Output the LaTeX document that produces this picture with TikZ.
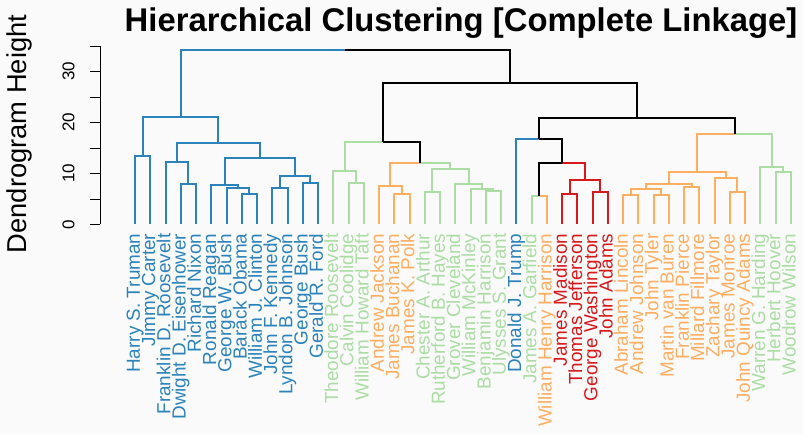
\documentclass[tikz,border=0pt]{standalone}
\usepackage{fontspec}
\setmainfont{Liberation Sans}
\usepackage{tikz}

\definecolor{cblue}{HTML}{2B83BA}
\definecolor{cgreen}{HTML}{ABDDA4}
\definecolor{corange}{HTML}{FDAE61}
\definecolor{cred}{HTML}{D7191C}
\definecolor{bgpaper}{HTML}{FAFAFA}

\begin{document}
\begin{tikzpicture}[
	leaf/.style={rotate=90, anchor=east, inner sep=0pt, text height=13.6pt, text depth=4pt,
		font=\fontsize{18.9}{18.9}\selectfont},
	ticklabel/.style={rotate=90, inner sep=0pt, font=\fontsize{17}{17}\selectfont},
	branch/.style={line width=2pt},
	bluebr/.style={branch, draw=cblue},
	greenbr/.style={branch, draw=cgreen},
	orangebr/.style={branch, draw=corange},
	redbr/.style={branch, draw=cred},
	blackbr/.style={branch, draw=black},
	axisline/.style={line width=0.9pt}
	]
	
	\useasboundingbox (0,0) rectangle (803pt,434pt);
	\fill[bgpaper] (0,0) rectangle (803pt,434pt);
	
	%-----------------------
	% Title and axis label
	%-----------------------
	\node[anchor=base, inner sep=0pt, font=\bfseries\fontsize{32.8}{32.8}\selectfont] (title) at (461pt,402.5pt)
		{Hierarchical Clustering [Complete Linkage]};
	\node[rotate=90, inner sep=0pt, font=\fontsize{27.3}{27.3}\selectfont] (ylabel) at (19.5pt,300pt)
		{Dendrogram Height};
	
	% leaf index on x, height on y
	\begin{scope}[shift={(119.75pt,209.5pt)}, x=15.25pt, y=5.1pt]
	
	%-----------------------
	% Axis
	%-----------------------
	\coordinate (A0) at (-1.295,0);
	\coordinate (A35) at (-1.295,35);
	\draw[axisline] (A0) -- (A35);
	\draw[axisline] (-1.295,0) -- ++(-10pt,0);
	\draw[axisline] (-1.295,5) -- ++(-10pt,0);
	\draw[axisline] (-1.295,10) -- ++(-10pt,0);
	\draw[axisline] (-1.295,15) -- ++(-10pt,0);
	\draw[axisline] (-1.295,20) -- ++(-10pt,0);
	\draw[axisline] (-1.295,25) -- ++(-10pt,0);
	\draw[axisline] (-1.295,30) -- ++(-10pt,0);
	\draw[axisline] (-1.295,35) -- ++(-10pt,0);
	
	\node[ticklabel] (T0)  at (-3.36,0)  {0};
	\node[ticklabel] (T10) at (-3.36,10) {10};
	\node[ticklabel] (T20) at (-3.36,20) {20};
	\node[ticklabel] (T30) at (-3.36,30) {30};
	
	%-----------------------
	% Leaves
	%-----------------------
	\coordinate (L1) at (1,0);   \coordinate (L2) at (2,0);   \coordinate (L3) at (3,0);
	\coordinate (L4) at (4,0);   \coordinate (L5) at (5,0);   \coordinate (L6) at (6,0);
	\coordinate (L7) at (7,0);   \coordinate (L8) at (8,0);   \coordinate (L9) at (9,0);
	\coordinate (L10) at (10,0); \coordinate (L11) at (11,0); \coordinate (L12) at (12,0);
	\coordinate (L13) at (13,0); \coordinate (L14) at (14,0); \coordinate (L15) at (15,0);
	\coordinate (L16) at (16,0); \coordinate (L17) at (17,0); \coordinate (L18) at (18,0);
	\coordinate (L19) at (19,0); \coordinate (L20) at (20,0); \coordinate (L21) at (21,0);
	\coordinate (L22) at (22,0); \coordinate (L23) at (23,0); \coordinate (L24) at (24,0);
	\coordinate (L25) at (25,0); \coordinate (L26) at (26,0); \coordinate (L27) at (27,0);
	\coordinate (L28) at (28,0); \coordinate (L29) at (29,0); \coordinate (L30) at (30,0);
	\coordinate (L31) at (31,0); \coordinate (L32) at (32,0); \coordinate (L33) at (33,0);
	\coordinate (L34) at (34,0); \coordinate (L35) at (35,0); \coordinate (L36) at (36,0);
	\coordinate (L37) at (37,0); \coordinate (L38) at (38,0); \coordinate (L39) at (39,0);
	\coordinate (L40) at (40,0); \coordinate (L41) at (41,0); \coordinate (L42) at (42,0);
	\coordinate (L43) at (43,0); \coordinate (L44) at (44,0);
	
	%-----------------------
	% Leaf labels
	%-----------------------
	\node[leaf, text=cblue] (N1)  at ([yshift=-9pt]L1)  {Harry S. Truman};
	\node[leaf, text=cblue] (N2)  at ([yshift=-9pt]L2)  {Jimmy Carter};
	\node[leaf, text=cblue] (N3)  at ([yshift=-9pt]L3)  {Franklin D. Roosevelt};
	\node[leaf, text=cblue] (N4)  at ([yshift=-9pt]L4)  {Dwight D. Eisenhower};
	\node[leaf, text=cblue] (N5)  at ([yshift=-9pt]L5)  {Richard Nixon};
	\node[leaf, text=cblue] (N6)  at ([yshift=-9pt]L6)  {Ronald Reagan};
	\node[leaf, text=cblue] (N7)  at ([yshift=-9pt]L7)  {George W. Bush};
	\node[leaf, text=cblue] (N8)  at ([yshift=-9pt]L8)  {Barack Obama};
	\node[leaf, text=cblue] (N9)  at ([yshift=-9pt]L9)  {William J. Clinton};
	\node[leaf, text=cblue] (N10) at ([yshift=-9pt]L10) {John F. Kennedy};
	\node[leaf, text=cblue] (N11) at ([yshift=-9pt]L11) {Lyndon B. Johnson};
	\node[leaf, text=cblue] (N12) at ([yshift=-9pt]L12) {George Bush};
	\node[leaf, text=cblue] (N13) at ([yshift=-9pt]L13) {Gerald R. Ford};
	\node[leaf, text=cgreen] (N14) at ([yshift=-9pt]L14) {Theodore Roosevelt};
	\node[leaf, text=cgreen] (N15) at ([yshift=-9pt]L15) {Calvin Coolidge};
	\node[leaf, text=cgreen] (N16) at ([yshift=-9pt]L16) {William Howard Taft};
	\node[leaf, text=corange] (N17) at ([yshift=-9pt]L17) {Andrew Jackson};
	\node[leaf, text=corange] (N18) at ([yshift=-9pt]L18) {James Buchanan};
	\node[leaf, text=corange] (N19) at ([yshift=-9pt]L19) {James K. Polk};
	\node[leaf, text=cgreen] (N20) at ([yshift=-9pt]L20) {Chester A. Arthur};
	\node[leaf, text=cgreen] (N21) at ([yshift=-9pt]L21) {Rutherford B. Hayes};
	\node[leaf, text=cgreen] (N22) at ([yshift=-9pt]L22) {Grover Cleveland};
	\node[leaf, text=cgreen] (N23) at ([yshift=-9pt]L23) {William McKinley};
	\node[leaf, text=cgreen] (N24) at ([yshift=-9pt]L24) {Benjamin Harrison};
	\node[leaf, text=cgreen] (N25) at ([yshift=-9pt]L25) {Ulysses S. Grant};
	\node[leaf, text=cblue] (N26) at ([yshift=-9pt]L26) {Donald J. Trump};
	\node[leaf, text=cgreen] (N27) at ([yshift=-9pt]L27) {James A. Garfield};
	\node[leaf, text=corange] (N28) at ([yshift=-9pt]L28) {William Henry Harrison};
	\node[leaf, text=cred] (N29) at ([yshift=-9pt]L29) {James Madison};
	\node[leaf, text=cred] (N30) at ([yshift=-9pt]L30) {Thomas Jefferson};
	\node[leaf, text=cred] (N31) at ([yshift=-9pt]L31) {George Washington};
	\node[leaf, text=cred] (N32) at ([yshift=-9pt]L32) {John Adams};
	\node[leaf, text=corange] (N33) at ([yshift=-9pt]L33) {Abraham Lincoln};
	\node[leaf, text=corange] (N34) at ([yshift=-9pt]L34) {Andrew Johnson};
	\node[leaf, text=corange] (N35) at ([yshift=-9pt]L35) {John Tyler};
	\node[leaf, text=corange] (N36) at ([yshift=-9pt]L36) {Martin van Buren};
	\node[leaf, text=corange] (N37) at ([yshift=-9pt]L37) {Franklin Pierce};
	\node[leaf, text=corange] (N38) at ([yshift=-9pt]L38) {Millard Fillmore};
	\node[leaf, text=corange] (N39) at ([yshift=-9pt]L39) {Zachary Taylor};
	\node[leaf, text=corange] (N40) at ([yshift=-9pt]L40) {James Monroe};
	\node[leaf, text=corange] (N41) at ([yshift=-9pt]L41) {John Quincy Adams};
	\node[leaf, text=cgreen] (N42) at ([yshift=-9pt]L42) {Warren G. Harding};
	\node[leaf, text=cgreen] (N43) at ([yshift=-9pt]L43) {Herbert Hoover};
	\node[leaf, text=cgreen] (N44) at ([yshift=-9pt]L44) {Woodrow Wilson};
	
	%-----------------------
	% Merge points (x = mean of children, y = height)
	%-----------------------
	% blue cluster
	\coordinate (a1)  at (1.5,13.4);
	\coordinate (a2)  at (4.5,7.9);
	\coordinate (a3)  at (3.75,12.2);
	\coordinate (a4)  at (8.5,6.0);
	\coordinate (a5)  at (7.75,7.2);
	\coordinate (a6)  at (6.875,7.7);
	\coordinate (a7)  at (10.5,7.1);
	\coordinate (a8)  at (12.5,8.1);
	\coordinate (a9)  at (11.5,9.5);
	\coordinate (a10) at (9.1875,13.1);
	\coordinate (a11) at (6.46875,15.9);
	\coordinate (a12) at (3.984,21.0);
	% middle green / orange
	\coordinate (b1)  at (15.5,8.2);
	\coordinate (b2)  at (14.75,10.4);
	\coordinate (b3)  at (18.5,6.0);
	\coordinate (b4)  at (17.75,7.5);
	\coordinate (b5)  at (20.5,6.4);
	\coordinate (b6)  at (24.5,6.6);
	\coordinate (b7)  at (23.75,7.0);
	\coordinate (b8)  at (22.875,7.9);
	\coordinate (b9)  at (21.6875,10.8);
	\coordinate (b10) at (19.71875,12.1);
	\coordinate (b11) at (17.234,16.2);
	% right part
	\coordinate (c1)  at (27.5,5.6);
	\coordinate (c2)  at (29.5,6.0);
	\coordinate (c3)  at (31.5,6.4);
	\coordinate (c4)  at (30.5,8.7);
	\coordinate (c5)  at (29.0,12.0);
	\coordinate (c6)  at (27.5,16.8);
	\coordinate (d1)  at (33.5,5.8);
	\coordinate (d2)  at (35.5,5.8);
	\coordinate (d3)  at (34.5,7.0);
	\coordinate (d4)  at (37.5,7.4);
	\coordinate (d5)  at (36.0,7.9);
	\coordinate (d6)  at (40.5,6.4);
	\coordinate (d7)  at (39.75,9.1);
	\coordinate (d8)  at (37.875,10.2);
	\coordinate (e1)  at (43.5,10.3);
	\coordinate (e2)  at (42.75,11.3);
	\coordinate (d9)  at (40.3125,17.7);
	\coordinate (c7)  at (33.906,20.8);
	% top
	\coordinate (r1)   at (25.57,27.8);
	\coordinate (root) at (14.777,34.2);
	
	%-----------------------
	% Branches (parent -| child)
	%-----------------------
	% blue
	\draw[bluebr] (root) -| (a12);
	\draw[bluebr] (a12) -| (a1)  (a12) -| (a11);
	\draw[bluebr] (a1)  -| (L1)  (a1)  -| (L2);
	\draw[bluebr] (a11) -| (a3)  (a11) -| (a10);
	\draw[bluebr] (a3)  -| (L3)  (a3)  -| (a2);
	\draw[bluebr] (a2)  -| (L4)  (a2)  -| (L5);
	\draw[bluebr] (a10) -| (a6)  (a10) -| (a9);
	\draw[bluebr] (a6)  -| (L6)  (a6)  -| (a5);
	\draw[bluebr] (a5)  -| (L7)  (a5)  -| (a4);
	\draw[bluebr] (a4)  -| (L8)  (a4)  -| (L9);
	\draw[bluebr] (a9)  -| (a7)  (a9)  -| (a8);
	\draw[bluebr] (a7)  -| (L10) (a7)  -| (L11);
	\draw[bluebr] (a8)  -| (L12) (a8)  -| (L13);
	\draw[bluebr] (c6)  -| (L26);
	
	% green
	\draw[greenbr] (b11) -| (b2);
	\draw[greenbr] (b2)  -| (L14) (b2) -| (b1);
	\draw[greenbr] (b1)  -| (L15) (b1) -| (L16);
	\draw[greenbr] (b10) -| (b9);
	\draw[greenbr] (b9)  -| (b5)  (b9) -| (b8);
	\draw[greenbr] (b5)  -| (L20) (b5) -| (L21);
	\draw[greenbr] (b8)  -| (L22) (b8) -| (b7);
	\draw[greenbr] (b7)  -| (L23) (b7) -| (b6);
	\draw[greenbr] (b6)  -| (L24) (b6) -| (L25);
	\draw[greenbr] (c1)  -| (L27);
	\draw[greenbr] (d9)  -| (e2);
	\draw[greenbr] (e2)  -| (L42) (e2) -| (e1);
	\draw[greenbr] (e1)  -| (L43) (e1) -| (L44);
	
	% orange
	\draw[orangebr] (b10) -| (b4);
	\draw[orangebr] (b4)  -| (L17) (b4) -| (b3);
	\draw[orangebr] (b3)  -| (L18) (b3) -| (L19);
	\draw[orangebr] (c1)  -| (L28);
	\draw[orangebr] (d9)  -| (d8);
	\draw[orangebr] (d8)  -| (d5)  (d8) -| (d7);
	\draw[orangebr] (d5)  -| (d3)  (d5) -| (d4);
	\draw[orangebr] (d3)  -| (d1)  (d3) -| (d2);
	\draw[orangebr] (d1)  -| (L33) (d1) -| (L34);
	\draw[orangebr] (d2)  -| (L35) (d2) -| (L36);
	\draw[orangebr] (d4)  -| (L37) (d4) -| (L38);
	\draw[orangebr] (d7)  -| (L39) (d7) -| (d6);
	\draw[orangebr] (d6)  -| (L40) (d6) -| (L41);
	
	% red
	\draw[redbr] (c5) -| (c4);
	\draw[redbr] (c4) -| (c2)  (c4) -| (c3);
	\draw[redbr] (c2) -| (L29) (c2) -| (L30);
	\draw[redbr] (c3) -| (L31) (c3) -| (L32);
	
	% black
	\draw[blackbr] (root) -| (r1);
	\draw[blackbr] (r1)  -| (b11) (r1) -| (c7);
	\draw[blackbr] (b11) -| (b10);
	\draw[blackbr] (c7)  -| (c6)  (c7) -| (d9);
	\draw[blackbr] (c6)  -| (c5);
	\draw[blackbr] (c5)  -| (c1);
	
	\end{scope}
\end{tikzpicture}
\end{document}
